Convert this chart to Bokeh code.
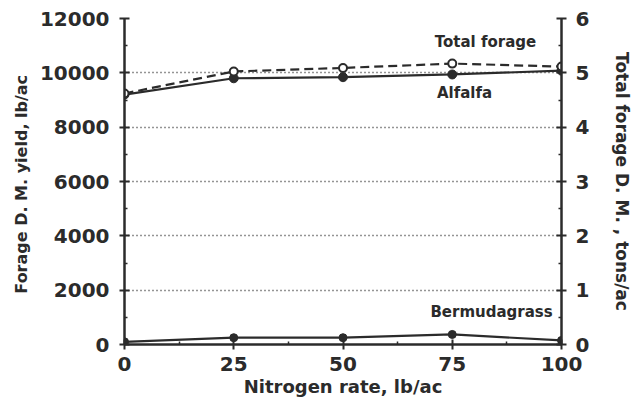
from bokeh.plotting import figure
from bokeh.models import LinearAxis, Range1d, Label, FixedTicker
from bokeh.embed import file_html
from bokeh.resources import INLINE

nitrogen = [0, 25, 50, 75, 100]
total_forage = [9240, 10050, 10180, 10340, 10230]
alfalfa = [9200, 9800, 9840, 9940, 10080]
bermudagrass = [100, 250, 250, 370, 150]

x_ticks = [0, 25, 50, 75, 100]
y_ticks = [0, 2000, 4000, 6000, 8000, 10000, 12000]
y2_ticks = [0, 1, 2, 3, 4, 5, 6]

FONT = "DejaVu Sans"
INK = "#2b2b2b"

p = figure(frame_width=437, frame_height=326, output_backend="svg", toolbar_location=None,
           x_range=Range1d(0, 100), y_range=Range1d(0, 12000),
           min_border_left=124, min_border_right=64, min_border_top=18, min_border_bottom=10)
p.outline_line_color = None
p.background_fill_color = "white"
p.border_fill_color = "white"

p.xgrid.visible = False
p.ygrid.ticker = FixedTicker(ticks=y_ticks)
p.ygrid.grid_line_color = INK
p.ygrid.grid_line_dash = "1 3"
p.ygrid.grid_line_width = 1.3

def style_axis(ax):
    ax.axis_line_color = INK
    ax.axis_line_width = 2.5
    ax.major_tick_line_color = INK
    ax.major_tick_line_width = 2
    ax.major_tick_in = 5
    ax.major_tick_out = 5
    ax.minor_tick_line_color = INK
    ax.minor_tick_line_width = 1.5
    ax.minor_tick_in = 3
    ax.minor_tick_out = 0
    ax.major_label_text_font = FONT
    ax.major_label_text_font_style = "bold"
    ax.major_label_text_font_size = "20px"
    ax.major_label_text_color = INK
    ax.axis_label_text_font = FONT
    ax.axis_label_text_font_style = "bold"
    ax.axis_label_text_font_size = "16px"
    ax.axis_label_text_color = INK

p.xaxis.ticker = FixedTicker(ticks=x_ticks, minor_ticks=[12.5, 37.5, 62.5, 87.5])
p.yaxis.ticker = FixedTicker(ticks=y_ticks, minor_ticks=[1000, 3000, 5000, 7000, 9000, 11000])
p.xaxis.axis_label = "Nitrogen rate, lb/ac"
p.yaxis.axis_label = "Forage D. M.  yield, lb/ac"
style_axis(p.xaxis[0])
style_axis(p.yaxis[0])
p.xaxis.axis_label_text_font_size = "18px"
p.xaxis.major_label_standoff = 7
p.yaxis.major_label_standoff = 10
p.yaxis.axis_label_standoff = 6
p.xaxis.axis_label_standoff = 2

p.extra_y_ranges = {"tons": Range1d(0, 6)}
ax2 = LinearAxis(y_range_name="tons", axis_label="Total forage D. M. , tons/ac",
                 ticker=FixedTicker(ticks=y2_ticks, minor_ticks=[0.5, 1.5, 2.5, 3.5, 4.5, 5.5]))
style_axis(ax2)
ax2.axis_label_text_font_size = "17px"
ax2.major_label_standoff = 9
ax2.axis_label_standoff = 20
p.add_layout(ax2, "right")

# lines
p.line(nitrogen, total_forage, line_color=INK, line_width=2.2, line_dash="9 5")
p.line(nitrogen, alfalfa, line_color=INK, line_width=2.2)
p.line(nitrogen, bermudagrass, line_color=INK, line_width=2.2)

p.scatter(nitrogen, alfalfa, marker="circle", size=9, fill_color=INK, line_color=INK)
p.scatter(nitrogen, total_forage, marker="circle", size=8, fill_color="white", line_color=INK, line_width=2)
p.scatter(nitrogen, bermudagrass, marker="circle", size=8, fill_color=INK, line_color=INK)

for txt, xx, yy in [("Total forage", 71.0, 11150), ("Alfalfa", 71.5, 9240), ("Bermudagrass", 70.0, 1180)]:
    p.add_layout(Label(x=xx, y=yy, text=txt, text_font=FONT, text_font_style="bold",
                       text_font_size="15px", text_color=INK, text_baseline="middle", text_align="left"))

open("out.html", "w").write(file_html(p, INLINE))
